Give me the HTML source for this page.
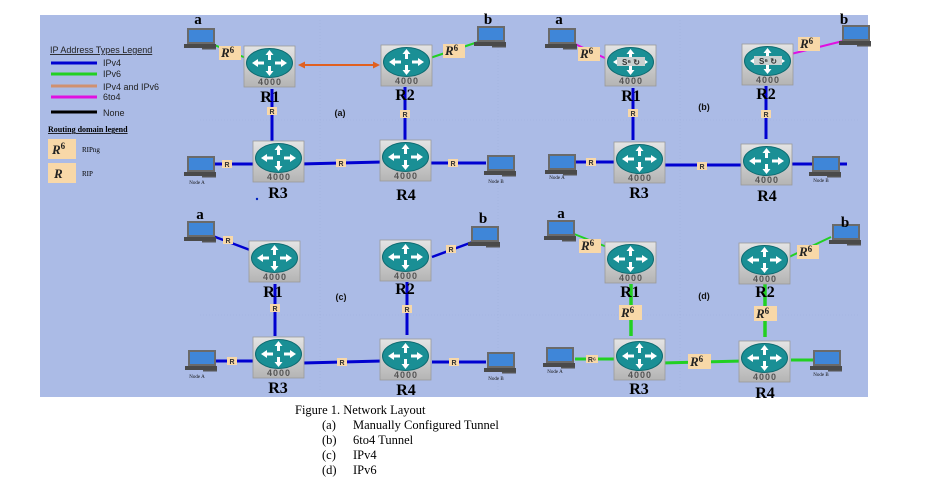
<!DOCTYPE html>
<html><head><meta charset="utf-8"><style>
html,body{margin:0;padding:0;background:#fff;width:927px;height:487px;overflow:hidden}
svg{display:block}
.rl{font-family:"Liberation Serif",serif;font-weight:bold;font-size:16px;fill:#000;text-anchor:middle}
.k{font-family:"Liberation Sans",sans-serif;font-weight:bold;font-size:9px;fill:#555;text-anchor:middle;letter-spacing:1px}
.sr{font-family:"Liberation Sans",sans-serif;font-weight:bold;font-size:7px;fill:#333;text-anchor:middle}
.r6{font-family:"Liberation Serif",serif;font-weight:bold;font-style:italic;font-size:13px;fill:#222}
.sup{font-size:9px;font-style:normal}
.nd{font-family:"Liberation Serif",serif;font-size:5px;fill:#111;text-anchor:middle}
.ab{font-family:"Liberation Serif",serif;font-weight:bold;font-size:15px;fill:#000;text-anchor:middle}
.pl{font-family:"Liberation Sans",sans-serif;font-weight:bold;font-size:9px;fill:#111;text-anchor:middle}
.lg{font-family:"Liberation Sans",sans-serif;font-size:9px;fill:#222}
.cap{font-family:"Liberation Serif",serif;font-size:12.5px;fill:#000}
</style></head><body>
<svg width="927" height="487" viewBox="0 0 927 487" xmlns="http://www.w3.org/2000/svg">
<defs>
<linearGradient id="gb" x1="0" y1="0" x2="0" y2="1"><stop offset="0" stop-color="#e4e4e4"/><stop offset="1" stop-color="#b4b4b4"/></linearGradient>
<g id="rt">
<rect x="0" y="0" width="51" height="41" fill="url(#gb)" stroke="#9a9a9a" stroke-width="0.8"/>
<ellipse cx="25.5" cy="17" rx="23" ry="14.5" fill="#1a8f95" stroke="#0d6a70"/>
<path d="M25.5 4 l-4 5 h2.5 v5 h3 v-5 h2.5z M25.5 30 l-4 -5 h2.5 v-5 h3 v5 h2.5z M8 17 l6 -4 v2.5 h6 v3 h-6 v2.5z M43 17 l-6 -4 v2.5 h-6 v3 h6 v2.5z" fill="#fff"/>
</g>
<g id="pc">
<rect x="3" y="0" width="28" height="16" fill="#6a6a6a"/>
<rect x="5" y="2" width="24" height="12" fill="#3f86d8"/>
<rect x="0" y="16" width="32" height="4" fill="#4a4a4a"/>
<rect x="18" y="20" width="14" height="1.5" fill="#555"/>
</g>
</defs>
<rect x="40" y="15" width="828" height="382" fill="#abbbe6"/>
<g stroke="#9fb0dc" stroke-width="0.6" stroke-dasharray="1 2" fill="none">
<path d="M320 20V390 M498 20V390 M680 20V390 M200 120H860 M200 315H860"/>
</g>

<!-- Legend -->
<text class="lg" x="50" y="53" text-decoration="underline">IP Address Types Legend</text>
<line x1="51" y1="63" x2="97" y2="63" stroke="#0000d0" stroke-width="3"/><text class="lg" x="103" y="66">IPv4</text>
<line x1="51" y1="74" x2="97" y2="74" stroke="#22d022" stroke-width="3"/><text class="lg" x="103" y="77">IPv6</text>
<line x1="51" y1="86" x2="97" y2="86" stroke="#d09070" stroke-width="3"/><text class="lg" x="103" y="90">IPv4 and IPv6</text>
<line x1="51" y1="97" x2="97" y2="97" stroke="#e010e0" stroke-width="3"/><text class="lg" x="103" y="100">6to4</text>
<line x1="51" y1="112" x2="97" y2="112" stroke="#000" stroke-width="3"/><text class="lg" x="103" y="116">None</text>
<text x="48" y="132" style="font-family:'Liberation Serif',serif;font-weight:bold;font-size:8px" text-decoration="underline">Routing domain legend</text>
<rect x="48" y="139" width="28" height="20" fill="#f8d8a8"/><text class="r6" x="52" y="154">R<tspan class="sup" dy="-5">6</tspan></text>
<text x="82" y="152" style="font-family:'Liberation Serif',serif;font-size:7px">RIPng</text>
<rect x="48" y="163" width="28" height="20" fill="#f8d8a8"/><text class="r6" x="54" y="178">R</text>
<text x="82" y="176" style="font-family:'Liberation Serif',serif;font-size:7px">RIP</text>
<circle cx="257" cy="199" r="1.2" fill="#0020c0"/>

<!-- Panel A -->
<g>
<line x1="272" y1="89" x2="272" y2="141" stroke="#0000d0" stroke-width="3"/>
<line x1="405" y1="87" x2="405" y2="140" stroke="#0000d0" stroke-width="3"/>
<line x1="300" y1="164" x2="382" y2="162" stroke="#0000d0" stroke-width="3"/>
<line x1="214" y1="164" x2="256" y2="164" stroke="#0000d0" stroke-width="3"/>
<line x1="430" y1="163" x2="486" y2="163" stroke="#0000d0" stroke-width="3"/>
<line x1="212" y1="44" x2="246" y2="58" stroke="#22d022" stroke-width="2"/>
<line x1="430" y1="58" x2="478" y2="42" stroke="#22d022" stroke-width="2"/>
<line x1="302" y1="65" x2="376" y2="65" stroke="#e06020" stroke-width="2"/>
<path d="M298 65l7-3.5v7z M380 65l-7-3.5v7z" fill="#e06020"/>
<use href="#rt" x="244" y="46"/><text class="k" x="270" y="85">4000</text><text class="rl" x="270" y="102">R1</text>
<use href="#rt" x="381" y="45"/><text class="k" x="407" y="84">4000</text><text class="rl" x="405" y="100">R2</text>
<use href="#rt" x="253" y="141"/><text class="k" x="279" y="180">4000</text><text class="rl" x="278" y="198">R3</text>
<use href="#rt" x="380" y="140"/><text class="k" x="406" y="179">4000</text><text class="rl" x="406" y="200">R4</text>
<use href="#pc" x="184" y="28"/><text class="ab" x="198" y="24">a</text>
<use href="#pc" x="474" y="26"/><text class="ab" x="488" y="24">b</text>
<use href="#pc" x="184" y="156"/><text class="nd" x="197" y="184">Node A</text>
<use href="#pc" x="484" y="155"/><text class="nd" x="496" y="183">Node B</text>
<rect x="219" y="46" width="22" height="14" fill="#f8d8a8"/><text class="r6" x="221" y="57">R<tspan class="sup" dy="-4">6</tspan></text>
<rect x="443" y="44" width="22" height="14" fill="#f8d8a8"/><text class="r6" x="445" y="55">R<tspan class="sup" dy="-4">6</tspan></text>
<rect x="267" y="107" width="10" height="8" fill="#f8d8a8"/><text class="sr" x="272" y="114">R</text>
<rect x="400" y="110" width="10" height="8" fill="#f8d8a8"/><text class="sr" x="405" y="117">R</text>
<rect x="222" y="160" width="10" height="8" fill="#f8d8a8"/><text class="sr" x="227" y="167">R</text>
<rect x="336" y="159" width="10" height="8" fill="#f8d8a8"/><text class="sr" x="341" y="166">R</text>
<rect x="448" y="159" width="10" height="8" fill="#f8d8a8"/><text class="sr" x="453" y="166">R</text>
<text class="pl" x="340" y="116">(a)</text>
</g>

<!-- Panel B -->
<g transform="translate(361,-1)">
<line x1="272" y1="89" x2="272" y2="141" stroke="#0000d0" stroke-width="3"/>
<line x1="405" y1="87" x2="405" y2="140" stroke="#0000d0" stroke-width="3"/>
<line x1="300" y1="166" x2="382" y2="166" stroke="#0000d0" stroke-width="3"/>
<line x1="214" y1="163" x2="256" y2="163" stroke="#0000d0" stroke-width="3"/>
<line x1="430" y1="165" x2="486" y2="165" stroke="#0000d0" stroke-width="3"/>
<line x1="212" y1="44" x2="246" y2="60" stroke="#e010e0" stroke-width="2"/>
<line x1="430" y1="55" x2="482" y2="42" stroke="#e010e0" stroke-width="2"/>
<use href="#rt" x="244" y="46"/><text class="k" x="270" y="85">4000</text><text class="rl" x="270" y="102">R1</text>
<rect x="256" y="58" width="28" height="9" fill="#c8d0d0"/><text class="sr" x="270" y="66" style="font-size:8px">S⁶ ↻</text>
<use href="#rt" x="381" y="45"/><text class="k" x="407" y="84">4000</text><text class="rl" x="405" y="100">R2</text>
<rect x="393" y="57" width="28" height="9" fill="#c8d0d0"/><text class="sr" x="407" y="65" style="font-size:8px">S⁶ ↻</text>
<use href="#rt" x="253" y="143"/><text class="k" x="279" y="182">4000</text><text class="rl" x="278" y="199">R3</text>
<use href="#rt" x="380" y="145"/><text class="k" x="406" y="184">4000</text><text class="rl" x="406" y="202">R4</text>
<use href="#pc" x="184" y="29"/><text class="ab" x="198" y="25">a</text>
<use href="#pc" x="478" y="26"/><text class="ab" x="483" y="25">b</text>
<use href="#pc" x="184" y="155"/><text class="nd" x="196" y="180">Node A</text>
<use href="#pc" x="448" y="157"/><text class="nd" x="460" y="183">Node B</text>
<rect x="217" y="48" width="22" height="14" fill="#f8d8a8"/><text class="r6" x="219" y="59">R<tspan class="sup" dy="-4">6</tspan></text>
<rect x="437" y="38" width="22" height="14" fill="#f8d8a8"/><text class="r6" x="439" y="49">R<tspan class="sup" dy="-4">6</tspan></text>
<rect x="267" y="110" width="10" height="8" fill="#f8d8a8"/><text class="sr" x="272" y="117">R</text>
<rect x="400" y="111" width="10" height="8" fill="#f8d8a8"/><text class="sr" x="405" y="118">R</text>
<rect x="225" y="159" width="10" height="8" fill="#f8d8a8"/><text class="sr" x="230" y="166">R</text>
<rect x="336" y="163" width="10" height="8" fill="#f8d8a8"/><text class="sr" x="341" y="170">R</text>
<text class="pl" x="343" y="111">(b)</text>
</g>

<!-- Panel C -->
<g transform="translate(0,195)">
<line x1="275" y1="89" x2="275" y2="141" stroke="#0000d0" stroke-width="3"/>
<line x1="407" y1="87" x2="407" y2="140" stroke="#0000d0" stroke-width="3"/>
<line x1="303" y1="168" x2="382" y2="166" stroke="#0000d0" stroke-width="3"/>
<line x1="214" y1="166" x2="256" y2="166" stroke="#0000d0" stroke-width="3"/>
<line x1="432" y1="167" x2="486" y2="167" stroke="#0000d0" stroke-width="3"/>
<line x1="210" y1="40" x2="250" y2="55" stroke="#0000d0" stroke-width="2.5"/>
<line x1="432" y1="62" x2="478" y2="45" stroke="#0000d0" stroke-width="2.5"/>
<use href="#rt" x="249" y="46"/><text class="k" x="275" y="85">4000</text><text class="rl" x="273" y="102">R1</text>
<use href="#rt" x="380" y="45"/><text class="k" x="406" y="84">4000</text><text class="rl" x="405" y="99">R2</text>
<use href="#rt" x="253" y="142"/><text class="k" x="279" y="181">4000</text><text class="rl" x="278" y="198">R3</text>
<use href="#rt" x="380" y="144"/><text class="k" x="406" y="183">4000</text><text class="rl" x="406" y="200">R4</text>
<use href="#pc" x="184" y="26"/><text class="ab" x="200" y="24">a</text>
<use href="#pc" x="468" y="31"/><text class="ab" x="483" y="28">b</text>
<use href="#pc" x="185" y="155"/><text class="nd" x="197" y="183">Node A</text>
<use href="#pc" x="484" y="157"/><text class="nd" x="496" y="185">Node B</text>
<rect x="223" y="41" width="10" height="8" fill="#f8d8a8"/><text class="sr" x="228" y="48">R</text>
<rect x="446" y="50" width="10" height="8" fill="#f8d8a8"/><text class="sr" x="451" y="57">R</text>
<rect x="270" y="109" width="10" height="8" fill="#f8d8a8"/><text class="sr" x="275" y="116">R</text>
<rect x="402" y="110" width="10" height="8" fill="#f8d8a8"/><text class="sr" x="407" y="117">R</text>
<rect x="227" y="162" width="10" height="8" fill="#f8d8a8"/><text class="sr" x="232" y="169">R</text>
<rect x="337" y="163" width="10" height="8" fill="#f8d8a8"/><text class="sr" x="342" y="170">R</text>
<rect x="449" y="163" width="10" height="8" fill="#f8d8a8"/><text class="sr" x="454" y="170">R</text>
<text class="pl" x="341" y="105">(c)</text>
</g>

<!-- Panel D -->
<g transform="translate(361,195)">
<line x1="270" y1="89" x2="270" y2="141" stroke="#22d022" stroke-width="3.5"/>
<line x1="404" y1="87" x2="404" y2="142" stroke="#22d022" stroke-width="3.5"/>
<line x1="300" y1="168" x2="382" y2="166" stroke="#22d022" stroke-width="3"/>
<line x1="214" y1="164" x2="256" y2="164" stroke="#22d022" stroke-width="3"/>
<line x1="430" y1="165" x2="460" y2="165" stroke="#22d022" stroke-width="3"/>
<line x1="208" y1="37" x2="246" y2="52" stroke="#22d022" stroke-width="2"/>
<line x1="428" y1="62" x2="470" y2="42" stroke="#22d022" stroke-width="2"/>
<use href="#rt" x="244" y="47"/><text class="k" x="270" y="86">4000</text><text class="rl" x="269" y="102">R1</text>
<use href="#rt" x="378" y="48"/><text class="k" x="404" y="87">4000</text><text class="rl" x="404" y="102">R2</text>
<use href="#rt" x="253" y="144"/><text class="k" x="279" y="183">4000</text><text class="rl" x="278" y="199">R3</text>
<use href="#rt" x="378" y="146"/><text class="k" x="404" y="185">4000</text><text class="rl" x="404" y="203">R4</text>
<use href="#pc" x="183" y="25"/><text class="ab" x="200" y="23">a</text>
<use href="#pc" x="468" y="29"/><text class="ab" x="484" y="32">b</text>
<use href="#pc" x="182" y="152"/><text class="nd" x="194" y="178">Node A</text>
<use href="#pc" x="449" y="155"/><text class="nd" x="460" y="181">Node B</text>
<rect x="218" y="44" width="22" height="14" fill="#f8d8a8"/><text class="r6" x="220" y="55">R<tspan class="sup" dy="-4">6</tspan></text>
<rect x="436" y="50" width="22" height="14" fill="#f8d8a8"/><text class="r6" x="438" y="61">R<tspan class="sup" dy="-4">6</tspan></text>
<rect x="258" y="110" width="23" height="15" fill="#f8d8a8"/><text class="r6" x="260" y="122">R<tspan class="sup" dy="-4">6</tspan></text>
<rect x="393" y="111" width="23" height="15" fill="#f8d8a8"/><text class="r6" x="395" y="123">R<tspan class="sup" dy="-4">6</tspan></text>
<rect x="225" y="160" width="12" height="8" fill="#f8d8a8"/><text class="sr" x="231" y="167">R⁶</text>
<rect x="327" y="159" width="23" height="15" fill="#f8d8a8"/><text class="r6" x="329" y="171">R<tspan class="sup" dy="-4">6</tspan></text>
<text class="pl" x="343" y="104">(d)</text>
</g>

<!-- Caption -->
<text class="cap" x="295" y="414">Figure 1.  Network Layout</text>
<text class="cap" x="322" y="429">(a)</text><text class="cap" x="353" y="429">Manually Configured Tunnel</text>
<text class="cap" x="322" y="444">(b)</text><text class="cap" x="353" y="444">6to4 Tunnel</text>
<text class="cap" x="322" y="459">(c)</text><text class="cap" x="353" y="459">IPv4</text>
<text class="cap" x="322" y="474">(d)</text><text class="cap" x="353" y="474">IPv6</text>
</svg>
</body></html>
